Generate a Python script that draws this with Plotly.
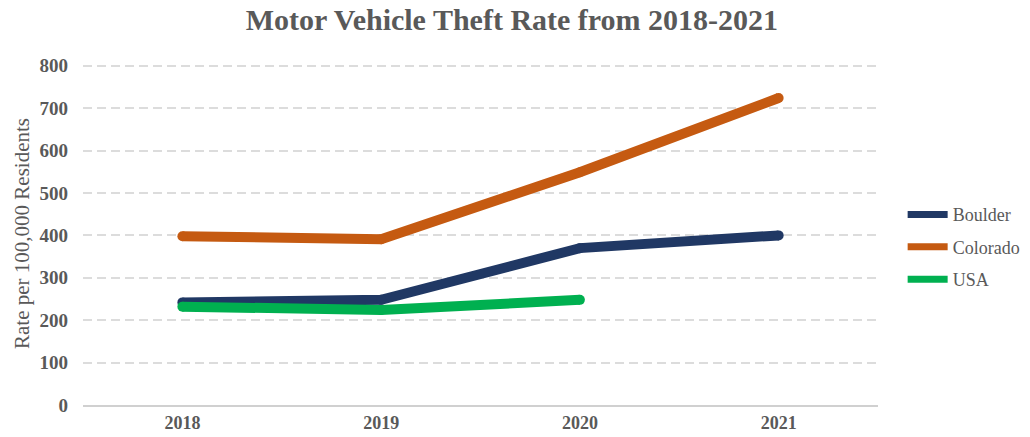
import plotly.graph_objects as go

years = ["2018", "2019", "2020", "2021"]
boulder = [242, 248, 370, 400]
colorado = [398, 391, 549, 724]
usa = [232, 224, 248]
y_ticks = [0, 100, 200, 300, 400, 500, 600, 700, 800]

series = [
    ("Boulder", boulder, "#203864"),
    ("Colorado", colorado, "#C55A11"),
    ("USA", usa, "#00B050"),
]

serif = "Liberation Serif, Times New Roman, serif"
grey = "#595959"

fig = go.Figure()
for name, vals, color in series:
    # thick line with round markers at the vertices to give rounded caps/joins
    fig.add_trace(go.Scatter(
        x=years[:len(vals)], y=vals, name=name, mode="lines+markers",
        line=dict(color=color, width=10),
        marker=dict(color=color, size=10, line=dict(width=0)),
        showlegend=False, legendgroup=name,
    ))
    # legend entry drawn with a slimmer line
    fig.add_trace(go.Scatter(
        x=[None], y=[None], name=name, mode="lines",
        line=dict(color=color, width=7), legendgroup=name,
    ))

fig.update_layout(
    width=1030, height=437,
    margin=dict(l=83, r=152, t=62, b=32, autoexpand=False),
    paper_bgcolor="white", plot_bgcolor="white",
    title=dict(
        text="<b>Motor Vehicle Theft Rate from 2018-2021</b>",
        x=0.497, xanchor="center", y=0.955, yanchor="middle",
        font=dict(family=serif, size=30, color=grey),
    ),
    font=dict(family=serif, color=grey),
    legend=dict(
        x=1.031, xanchor="left", y=0.46, yanchor="middle",
        font=dict(family=serif, size=18, color=grey),
        tracegroupgap=6, itemwidth=40,
    ),
    showlegend=True,
)
fig.update_xaxes(
    type="category", range=[-0.5, 3.5], automargin=False,
    showgrid=False, showline=True, linecolor="#d0d0d0", linewidth=2,
    ticks="", tickfont=dict(family=serif, size=18, color=grey),
    tickvals=years, ticktext=[f"<b>{y}</b>" for y in years],
)
fig.update_yaxes(
    range=[0, 809], tickvals=y_ticks, automargin=False,
    ticktext=[f"<b>{v}</b>" for v in y_ticks],
    showgrid=True, gridcolor="#dcdcdc", griddash="9px,5px", gridwidth=2,
    zeroline=False, showline=False, ticks="",
    tickfont=dict(family=serif, size=19, color=grey),
    ticklabelstandoff=14,
    title=dict(text="Rate per 100,000 Residents",
               font=dict(family=serif, size=21, color=grey), standoff=4),
)
fig.write_html("out.html")
